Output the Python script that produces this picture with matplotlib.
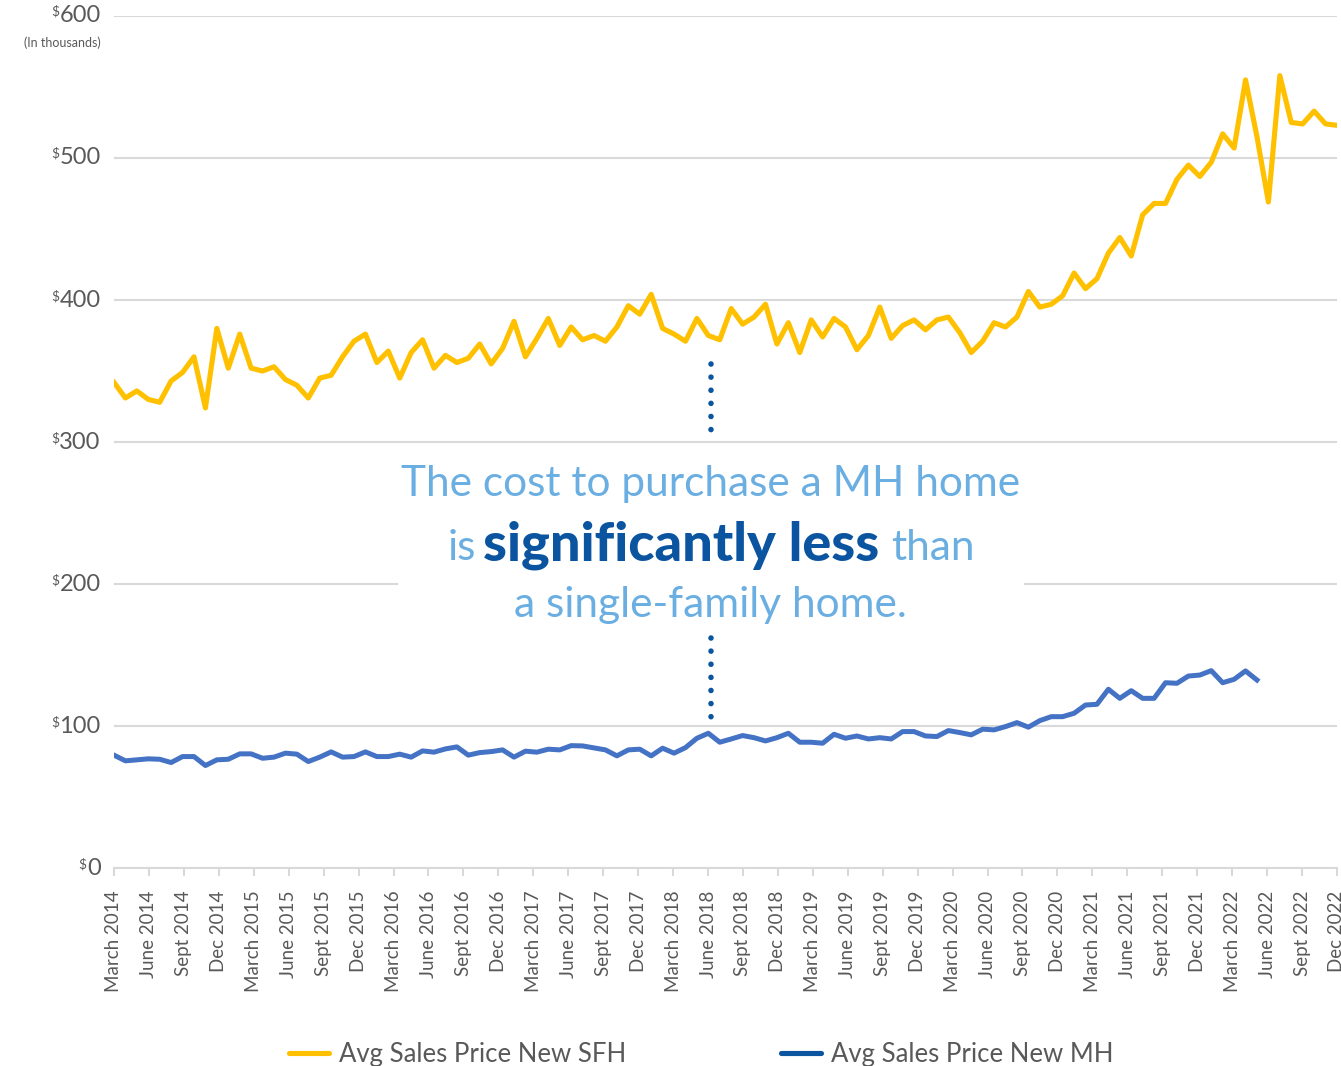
import numpy as np
import matplotlib.pyplot as plt
import matplotlib.transforms as mtransforms
from matplotlib.lines import Line2D
from matplotlib.patches import Rectangle

plt.rcParams['font.family'] = ['Lato', 'DejaVu Sans']

# 平均售价（千美元），按月
sfh_price = [342, 331, 336, 330, 328, 343, 349, 360, 324, 380,
             352, 376, 352, 350, 353, 344, 340, 331, 345, 347,
             360, 371, 376, 356, 364, 345, 363, 372, 352, 361,
             356, 359, 369, 355, 366, 385, 360, 373, 387, 368,
             381, 372, 375, 371, 381, 396, 390, 404, 380, 376,
             371, 387, 375, 372, 394, 383, 388, 397, 369, 384,
             363, 386, 374, 387, 381, 365, 375, 395, 373, 382,
             386, 379, 386, 388, 377, 363, 371, 384, 381, 388,
             406, 395, 397, 403, 419, 408, 415, 433, 444, 431,
             460, 468, 468, 485, 495, 487, 497, 517, 507, 555,
             515, 469, 558, 525, 524, 533, 524, 523]

mh_price = [79.5, 75.5, 76.2, 76.9, 76.6, 74.3, 78.5, 78.5, 72.2, 76.2,
            76.6, 80.4, 80.4, 77.3, 78.1, 80.9, 80.2, 75.0, 78.1, 81.8,
            78.1, 78.5, 81.8, 78.5, 78.5, 80.2, 78.1, 82.5, 81.6, 83.9,
            85.3, 79.5, 81.3, 82.0, 83.2, 78.1, 82.3, 81.6, 83.7, 83.2,
            86.2, 86.0, 84.6, 83.2, 79.0, 83.2, 83.7, 79.0, 84.4, 80.9,
            84.8, 91.4, 94.9, 88.6, 90.9, 93.3, 91.8, 89.5, 91.8, 94.9,
            88.6, 88.6, 87.9, 94.2, 91.4, 93.0, 90.9, 91.8, 90.9, 96.1,
            96.1, 93.0, 92.6, 96.8, 95.4, 93.8, 97.8, 97.3, 99.6, 102.4,
            99.2, 103.8, 106.6, 106.6, 109.0, 114.8, 115.3, 125.9, 119.5, 124.9,
            119.5, 119.5, 130.5, 130.1, 135.2, 135.9, 139.0, 130.5, 132.9, 138.8,
            132.4]

tick_labels = []
for yr in range(2014, 2023):
    tick_labels += [f'March {yr}', f'June {yr}', f'Sept {yr}', f'Dec {yr}']

y_ticks = [0, 100, 200, 300, 400, 500, 600]

GOLD = '#FFC000'
BLUE_LINE = '#4472C4'
DARK_BLUE = '#0B54A0'
LIGHT_BLUE = '#6AAEE2'
GRAY = '#595959'
GRID = '#D9D9D9'

fig = plt.figure(figsize=(13.41, 10.66), dpi=100)
ax = fig.add_axes([0.085, 0.1857, 0.912, 0.7993])

n_sfh = len(sfh_price)
ax.plot(np.arange(n_sfh), sfh_price, color=GOLD, lw=3.7, solid_joinstyle='round', zorder=3)
ax.plot(np.arange(len(mh_price)), mh_price, color=BLUE_LINE, lw=3.6, solid_joinstyle='round', zorder=3)

ax.set_xlim(0, n_sfh - 1)
ax.set_ylim(0, 600)

# 网格和坐标轴
ax.set_yticks(y_ticks)
ax.yaxis.grid(True, color=GRID, lw=1.5)
ax.set_axisbelow(True)
for s in ['left', 'right', 'top']:
    ax.spines[s].set_visible(False)
ax.spines['bottom'].set_color(GRID)
ax.spines['bottom'].set_linewidth(1.5)
ax.tick_params(axis='y', length=0, labelleft=False)

ax.set_xticks(np.linspace(0, n_sfh - 1, len(tick_labels)))
ax.set_xticklabels(tick_labels, rotation=90, fontsize=13.5, color=GRAY)
ax.tick_params(axis='x', length=6, width=1.5, color=GRID, pad=10)

# y 轴标签（小号 $ 符号）
ytrans = ax.get_yaxis_transform()
for v in y_ticks:
    t = ax.text(-0.011, v, str(v), transform=ytrans, ha='right', va='center',
                fontsize=17, color=GRAY)
    ax.annotate('$', xy=(0, 1), xycoords=t, ha='right', va='top',
                fontsize=10, color=GRAY, annotation_clip=False)
ax.text(-0.011, 581, '(In thousands)', transform=ytrans, ha='right', va='center',
        fontsize=9, color=GRAY)

# 中间说明文字
blend = mtransforms.blended_transform_factory(ax.transAxes, ax.transData)
ax.add_patch(Rectangle((0.232, 165), 0.512, 125, transform=blend,
                       facecolor='white', edgecolor='none', zorder=1))

ax.text(0.4877, 262, 'The cost to purchase a MH home', transform=blend,
        ha='center', va='baseline', fontsize=30.5, color=LIGHT_BLUE)
bold = ax.text(0.4636, 216.8, 'significantly less', transform=blend,
               ha='center', va='baseline', fontsize=39, color=DARK_BLUE, fontweight='black')
ax.annotate('is', xy=(0, 216.8), xycoords=(bold, 'data'), xytext=(-5, 0),
            textcoords='offset points', ha='right', va='baseline',
            fontsize=30.5, color=LIGHT_BLUE)
ax.annotate('than', xy=(1, 216.8), xycoords=(bold, 'data'), xytext=(9, 0),
            textcoords='offset points', ha='left', va='baseline',
            fontsize=30.5, color=LIGHT_BLUE)
ax.text(0.488, 177, 'a single-family home.', transform=blend,
        ha='center', va='baseline', fontsize=30.5, color=LIGHT_BLUE)

# 点状连接线
for y0, y1 in [(354.6, 306.0), (162.0, 105.0)]:
    ax.plot([0.488, 0.488], [y0, y1], transform=blend, color=DARK_BLUE, lw=4,
            linestyle=(0, (0.01, 2.35)), dash_capstyle='round', zorder=4)

# 图例
handles = [Line2D([], [], color=GOLD, lw=3.7, solid_capstyle='round'),
           Line2D([], [], color=DARK_BLUE, lw=3.7, solid_capstyle='round')]
fig.legend(handles, ['Avg Sales Price New SFH', 'Avg Sales Price New MH'],
           loc='center', bbox_to_anchor=(0.523, 0.011), ncol=2, frameon=False,
           fontsize=18.5, handlelength=1.55, handletextpad=0.4, columnspacing=6.0,
           labelcolor=GRAY)

fig.savefig('out.png', dpi=100)
